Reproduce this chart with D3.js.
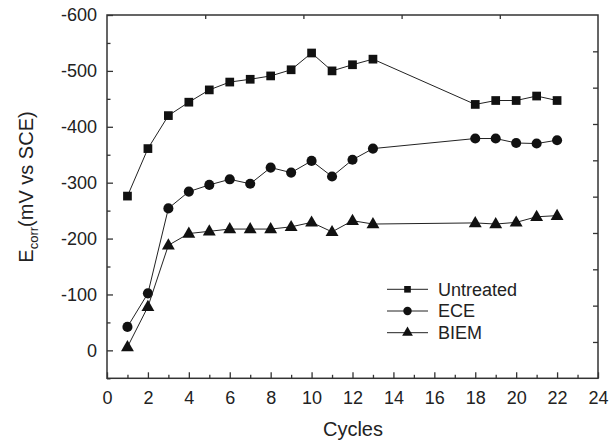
<!DOCTYPE html>
<html>
<head>
<meta charset="utf-8">
<script src="https://cdn.jsdelivr.net/npm/d3@7"></script>
<style>
  html, body { margin: 0; padding: 0; background: #fff; }
  svg { display: block; font-family: "Liberation Sans", Arial, sans-serif; }
</style>
</head>
<body>
<svg id="chart" width="616" height="441"></svg>
<script>
// Corrosion potential over wet/dry cycles
const cycles = [1, 2, 3, 4, 5, 6, 7, 8, 9, 10, 11, 12, 13, 18, 19, 20, 21, 22];
const untreated = [-276, -361, -420, -444, -466, -480, -485, -491, -502, -532, -500, -511, -521, -440, -447, -447, -455, -447];
const ece = [-42, -102, -254, -284, -296, -306, -298, -327, -318, -339, -311, -341, -361, -379, -379, -371, -370, -376];
const biem = [-6, -78, -188, -209, -213, -217, -217, -217, -221, -229, -212, -232, -226, -228, -226, -229, -239, -241];
const seriesNames = ["Untreated", "ECE", "BIEM"];
const xTicks = [0, 2, 4, 6, 8, 10, 12, 14, 16, 18, 20, 22, 24];
const yTicks = [-600, -500, -400, -300, -200, -100, 0];

const svg = d3.select("#chart");
const M = { left: 107, right: 598, top: 15, bottom: 378.3 };
const ink = "#222";
const axisInk = "#333";
const fmt = d => String(d);   // plain hyphen-minus labels

const x = d3.scaleLinear().domain([0, 24]).range([M.left, M.right]);
const y = d3.scaleLinear().domain([-600, 50]).range([M.top, M.bottom]);

// Frame
svg.append("rect")
  .attr("x", M.left).attr("y", M.top)
  .attr("width", M.right - M.left).attr("height", M.bottom - M.top)
  .attr("fill", "none").attr("stroke", axisInk).attr("stroke-width", 1.5);

const styleTicks = g => {
  g.select(".domain").remove();
  g.selectAll(".tick line").attr("stroke", axisInk).attr("stroke-width", 1.3);
};

// Bottom axis: major ticks labelled every 2 cycles, minor ticks between
const bottomMinor = d3.range(1, 24, 2);
svg.append("g").attr("transform", `translate(0,${M.bottom})`)
  .call(d3.axisBottom(x).tickValues(xTicks).tickFormat(fmt).tickSizeInner(-6).tickSizeOuter(0).tickPadding(13))
  .call(styleTicks)
  .call(g => g.selectAll(".tick text").attr("font-size", 18).attr("fill", ink)
    .attr("font-family", "Liberation Sans, Arial, sans-serif"));
svg.append("g").attr("transform", `translate(0,${M.bottom})`)
  .call(d3.axisBottom(x).tickValues(bottomMinor).tickSizeInner(-3.5).tickSizeOuter(0).tickFormat(""))
  .call(styleTicks);

// Left axis: labelled every 100 mV, minor every 50
const leftMinor = d3.range(-550, 51, 100);
svg.append("g").attr("transform", `translate(${M.left},0)`)
  .call(d3.axisLeft(y).tickValues(yTicks).tickFormat(fmt).tickSizeInner(-6).tickSizeOuter(0).tickPadding(10))
  .call(styleTicks)
  .call(g => g.selectAll(".tick text").attr("font-size", 18).attr("fill", ink)
    .attr("font-family", "Liberation Sans, Arial, sans-serif"));
svg.append("g").attr("transform", `translate(${M.left},0)`)
  .call(d3.axisLeft(y).tickValues(leftMinor).tickSizeInner(-3.5).tickSizeOuter(0).tickFormat(""))
  .call(styleTicks);

// Mirror ticks on top and right edges
const xTop = d3.scaleLinear().domain([0, 5]).range([M.left, M.right]);
svg.append("g").attr("transform", `translate(0,${M.top})`)
  .call(d3.axisTop(xTop).tickValues([1, 2, 3, 4]).tickSizeInner(-4).tickSizeOuter(0).tickFormat(""))
  .call(styleTicks);
const yRight = d3.scaleLinear().domain([0, 10]).range([M.top, M.bottom]);
svg.append("g").attr("transform", `translate(${M.right},0)`)
  .call(d3.axisRight(yRight).tickValues(d3.range(1, 10)).tickSizeInner(-5).tickSizeOuter(0).tickFormat(""))
  .call(styleTicks);

// Axis titles
svg.append("text")
  .attr("x", 353).attr("y", 436)
  .attr("text-anchor", "middle").attr("font-size", 20).attr("fill", ink)
  .text("Cycles");

const yt = svg.append("text")
  .attr("transform", "translate(33,187) rotate(-90)")
  .attr("text-anchor", "middle").attr("font-size", 20).attr("fill", ink);
yt.append("tspan").text("E");
yt.append("tspan").attr("font-size", 13).attr("dy", 5).text("corr");
yt.append("tspan").attr("dy", -5).text("(mV vs SCE)");

// Series
const data = [untreated, ece, biem];
const shapes = [d3.symbolSquare, d3.symbolCircle, d3.symbolTriangle];
const sizes = [76, 80, 72];
const legendSizes = [44, 56, 50];

const line = d3.line().x(d => x(d[0])).y(d => y(d[1]));

data.forEach((vals, i) => {
  const pts = cycles.map((c, j) => [c, vals[j]]);
  svg.append("path")
    .datum(pts)
    .attr("d", line)
    .attr("fill", "none").attr("stroke", ink).attr("stroke-width", 1);
  svg.append("g").selectAll("path")
    .data(pts).join("path")
    .attr("transform", d => `translate(${x(d[0])},${y(d[1]) + (i === 2 ? 0.5 : 0)})`)
    .attr("d", d3.symbol().type(shapes[i]).size(sizes[i]))
    .attr("fill", "#111");
});

// Legend
const lg = svg.append("g");
seriesNames.forEach((name, i) => {
  const ly = 289.3 + i * 21.7;
  lg.append("line").attr("x1", 387).attr("x2", 428).attr("y1", ly).attr("y2", ly)
    .attr("stroke", ink).attr("stroke-width", 1);
  lg.append("path").attr("transform", `translate(407.5,${ly})`)
    .attr("d", d3.symbol().type(shapes[i]).size(legendSizes[i])).attr("fill", "#111");
  lg.append("text").attr("x", 438).attr("y", ly).attr("dy", "0.36em")
    .attr("font-size", 18).attr("fill", ink).text(name);
});
</script>
</body>
</html>
